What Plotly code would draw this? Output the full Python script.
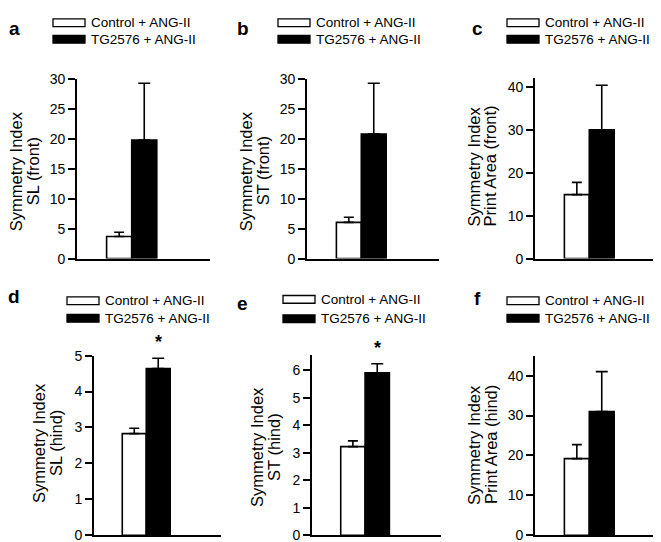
import plotly.graph_objects as go

W, H = 661, 542

# data
letters = ["a", "b", "c", "d", "e", "f"]
groups = ["Control + ANG-II", "TG2576 + ANG-II"]
y_titles = ["SL (front)", "ST (front)", "Print Area (front)",
            "SL (hind)", "ST (hind)", "Print Area (hind)"]
control_mean = [3.7, 6.05, 14.9, 2.83, 3.22, 19.2]
control_err = [0.7, 0.85, 2.85, 0.15, 0.21, 3.5]
tg_mean = [19.8, 20.8, 29.95, 4.64, 5.9, 31.0]
tg_err = [9.5, 8.5, 10.4, 0.29, 0.33, 10.0]
significant = [False, False, False, True, True, False]
y_max = [30, 30, 42, 5, 6.56, 45]
y_step = [5, 5, 10, 1, 1, 10]

# pixel geometry: axis left, right, top, bottom
boxes = [(69, 202, 65, 250), (299, 431, 65, 250), (527, 659, 64, 250),
         (86, 213, 350, 535), (304, 433, 349, 535), (527, 659, 350, 535)]
title_dx = [(-61, -44), (-61, -44), (-61, -45), (-55, -38), (-55, -38), (-61, -44)]
title_cy = [160, 160, 155, 440, 444, 442]
legend_x = [45, 270, 499, 59, 275, 499]
legend_rows = [(7, 24), (7, 24), (7, 24), (293.5, 311.5), (292, 312), (293.5, 311.5)]
letter_pos = [(6, 13), (235, 13), (469, 13), (6, 289), (235, 296), (469, 291)]

FONT = "Liberation Sans, Arial, sans-serif"


def px(x):
    return x / W


def py(y):
    return 1 - y / H


fig = go.Figure()
shapes = []
annotations = []

for i in range(6):
    n = "" if i == 0 else str(i + 1)
    left, right, top, bottom = boxes[i]
    xa, ya = "x" + n, "y" + n

    fig.add_trace(go.Bar(
        x=[0], y=[control_mean[i]], width=1, xaxis=xa, yaxis=ya,
        marker=dict(color="white", line=dict(color="black", width=1.6)),
        error_y=dict(type="data", symmetric=False, array=[control_err[i]],
                     arrayminus=[0], color="black", thickness=1.6, width=5),
        showlegend=False,
    ))
    fig.add_trace(go.Bar(
        x=[1], y=[tg_mean[i]], width=1, xaxis=xa, yaxis=ya,
        marker=dict(color="black", line=dict(color="black", width=1.6)),
        error_y=dict(type="data", symmetric=False, array=[tg_err[i]],
                     arrayminus=[0], color="black", thickness=1.6, width=6),
        showlegend=False,
    ))

    fig.layout["xaxis" + n] = dict(
        domain=[px(left), px(right)], range=[-1.68, 3.62], anchor=ya,
        showline=True, linecolor="black", linewidth=1.6,
        showticklabels=False, ticks="", showgrid=False, zeroline=False,
        fixedrange=True,
    )
    fig.layout["yaxis" + n] = dict(
        domain=[py(bottom), py(top)], range=[0, y_max[i]], anchor=xa,
        showline=True, linecolor="black", linewidth=1.6,
        ticks="outside", ticklen=7, tickwidth=1.6, tickcolor="black",
        dtick=y_step[i], tick0=0, showgrid=False, zeroline=False,
        tickfont=dict(family=FONT, size=14, color="black"),
    )

    # y-axis title in two lines
    for dx, txt in zip(title_dx[i], ["Symmetry Index", y_titles[i]]):
        annotations.append(dict(
            x=px(left + dx), y=py(title_cy[i]), xref="paper", yref="paper",
            text=txt, textangle=-90, showarrow=False,
            xanchor="center", yanchor="middle",
            font=dict(family=FONT, size=16.5, color="black"),
        ))

    # significance star
    if significant[i]:
        annotations.append(dict(
            x=1, y=tg_mean[i] + tg_err[i], xref=xa, yref=ya,
            text="<b>*</b>", showarrow=False, yanchor="bottom", yshift=4,
            font=dict(family=FONT, size=18, color="black"),
        ))

    # panel letter
    lx, ly = letter_pos[i]
    annotations.append(dict(
        x=px(lx), y=py(ly), xref="paper", yref="paper",
        text="<b>" + letters[i] + "</b>", showarrow=False,
        xanchor="center", yanchor="middle",
        font=dict(family=FONT, size=19, color="black"),
    ))

    # legend
    bx = legend_x[i]
    for row, (label, fill) in enumerate(zip(groups, ["white", "black"])):
        cy = legend_rows[i][row]
        shapes.append(dict(
            type="rect", xref="paper", yref="paper",
            x0=px(bx), x1=px(bx + 32), y0=py(cy + 4), y1=py(cy - 4),
            line=dict(color="black", width=1.3), fillcolor=fill,
        ))
        annotations.append(dict(
            x=px(bx + 36), y=py(cy), xref="paper", yref="paper",
            text=label, showarrow=False, xanchor="left", yanchor="middle",
            font=dict(family=FONT, size=13.5, color="black"),
        ))

fig.update_layout(
    width=W, height=H, margin=dict(l=0, r=0, t=0, b=0),
    paper_bgcolor="white", plot_bgcolor="white",
    barmode="overlay", shapes=shapes, annotations=annotations,
)

fig.write_html("out.html")
